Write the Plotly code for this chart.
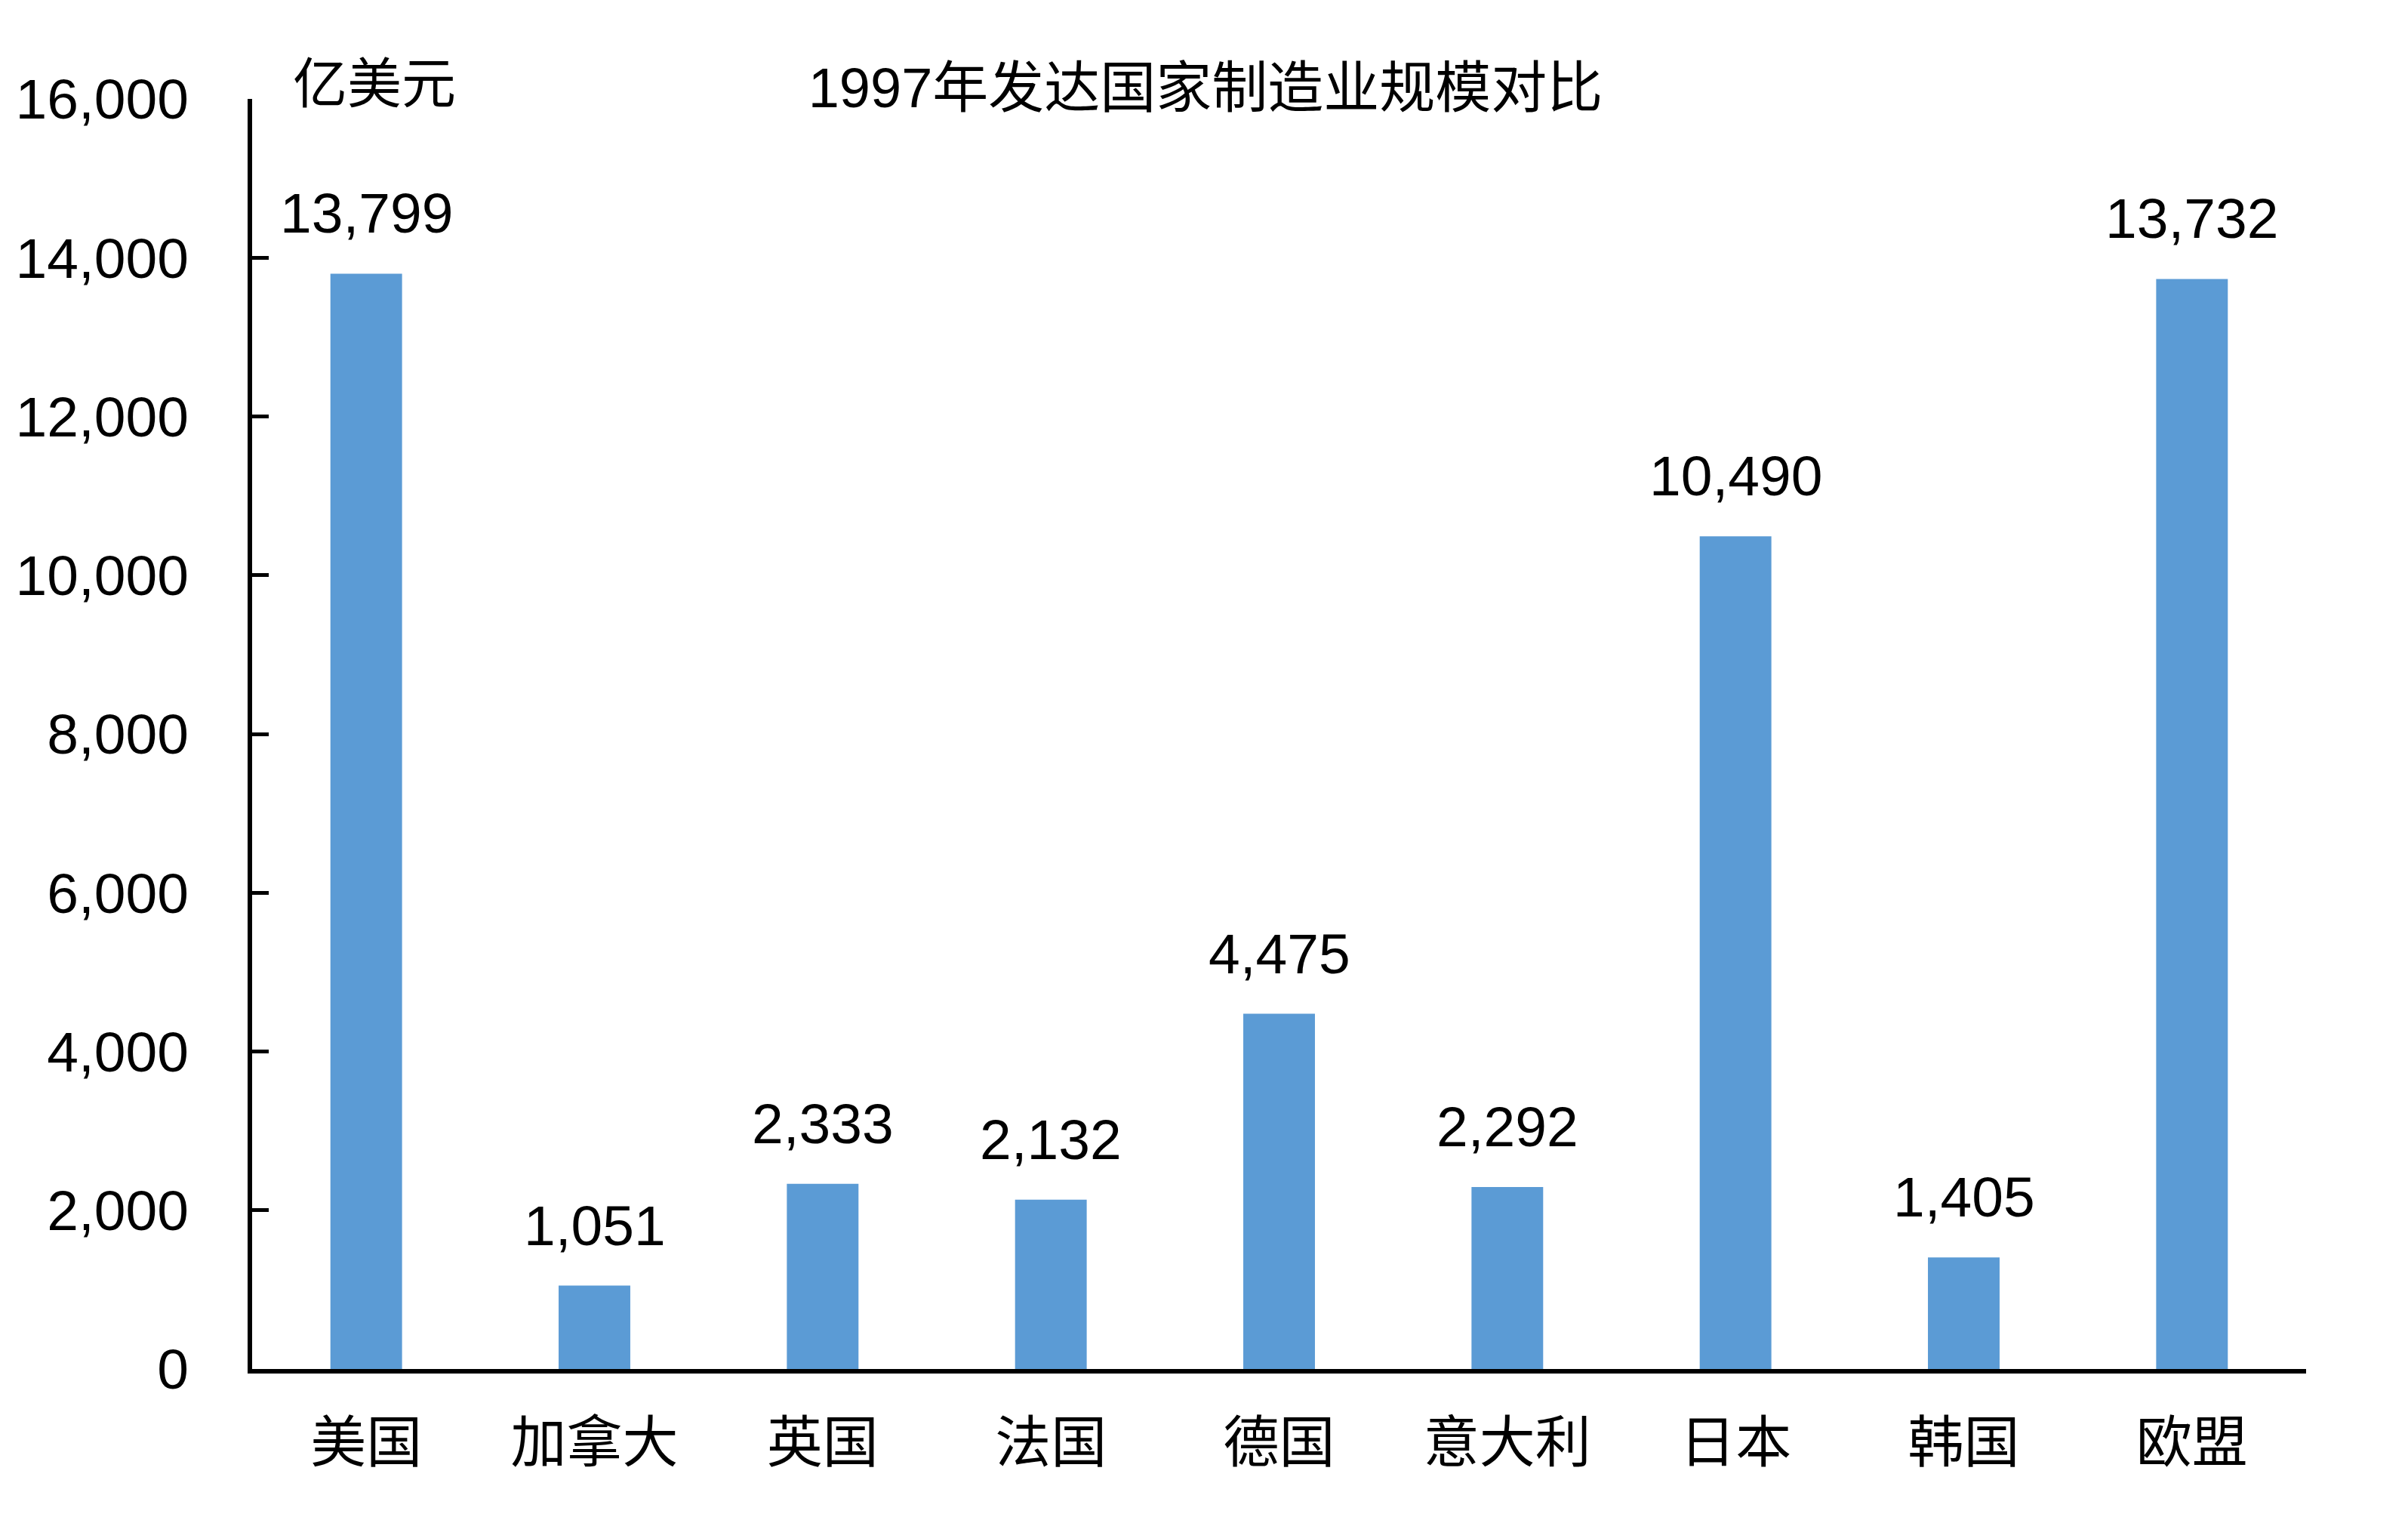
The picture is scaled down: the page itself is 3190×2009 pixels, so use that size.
import plotly.graph_objects as go

categories = ["美国", "加拿大", "英国", "法国", "德国", "意大利", "日本", "韩国", "欧盟"]
values = [13799, 1051, 2333, 2132, 4475, 2292, 10490, 1405, 13732]
y_ticks = [0, 2000, 4000, 6000, 8000, 10000, 12000, 14000, 16000]
title_text = "1997年发达国家制造业规模对比"
unit_text = "亿美元"

FONT = "Liberation Sans, Arial, Noto Sans CJK SC, sans-serif"

fig = go.Figure()
fig.add_trace(go.Bar(
    x=categories,
    y=values,
    marker=dict(color="#5B9BD5", line=dict(width=0)),
    showlegend=False,
))

for c, v in zip(categories, values):
    fig.add_annotation(
        x=c, y=v, xref="x", yref="y",
        text=f"{v:,}",
        showarrow=False,
        yanchor="middle",
        yshift=80,
        font=dict(family=FONT, size=75, color="black"),
    )

fig.add_annotation(
    x=0.019, y=1.012, xref="paper", yref="paper",
    text=unit_text, showarrow=False,
    xanchor="left", yanchor="middle",
    font=dict(family=FONT, size=72, color="black"),
)

fig.update_layout(
    width=3190, height=2009,
    margin=dict(l=334, r=135, t=131, b=196, pad=0),
    paper_bgcolor="white", plot_bgcolor="white",
    bargap=0.686,
    title=dict(
        text=title_text,
        x=1597 / 3190, xanchor="center", xref="container",
        y=1 - 116 / 2009, yanchor="middle", yref="container",
        font=dict(family=FONT, size=74, color="black"),
    ),
    font=dict(family=FONT, size=75, color="black"),
)

fig.update_yaxes(
    range=[0, 16000],
    tickvals=y_ticks,
    tickformat=",",
    showgrid=False,
    zeroline=False,
    automargin=False,
    showline=True, linecolor="black", linewidth=6,
    ticks="inside", ticklen=22, tickwidth=5, tickcolor="black",
    ticklabelstandoff=63,
    tickfont=dict(family=FONT, size=75, color="black"),
)
fig.update_xaxes(
    showgrid=False,
    automargin=False,
    showline=True, linecolor="black", linewidth=6,
    ticks="",
    ticklabelstandoff=28,
    tickfont=dict(family=FONT, size=74, color="black"),
)

fig.write_html("out.html", config={"displayModeBar": False},
               post_script="document.body.style.margin='0';")
